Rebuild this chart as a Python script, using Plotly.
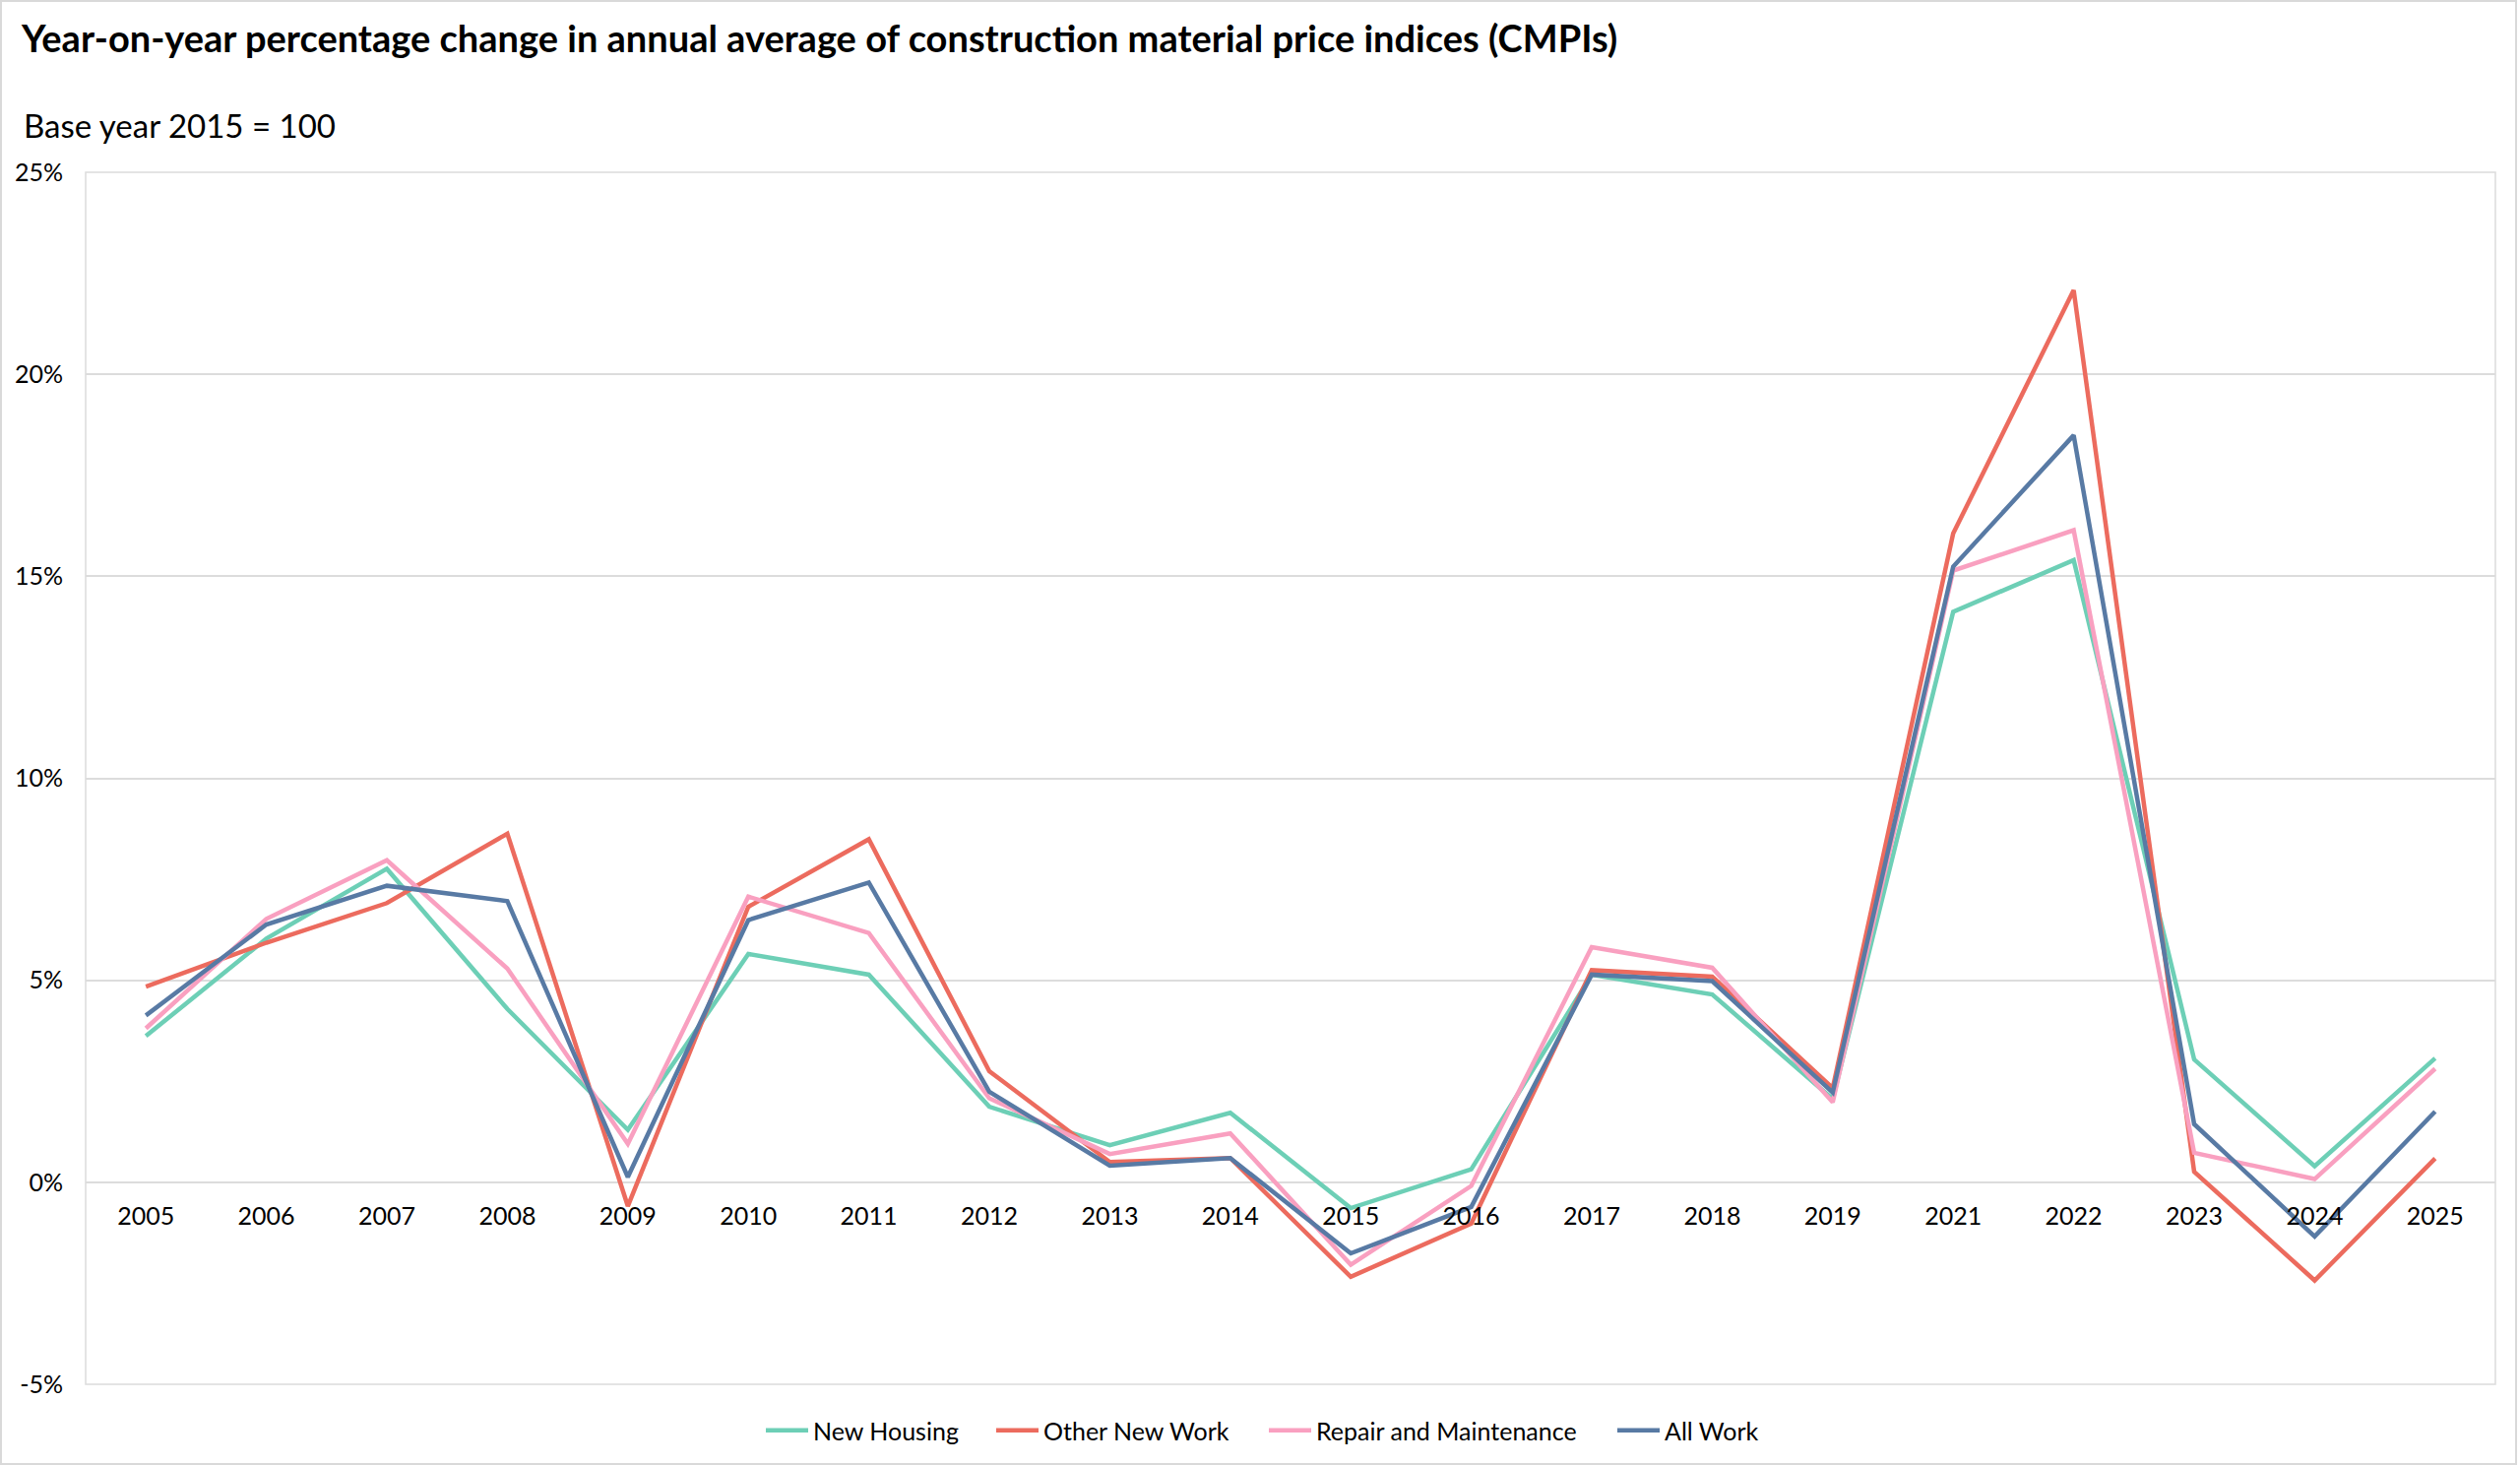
import plotly.graph_objects as go

years = ["2005", "2006", "2007", "2008", "2009", "2010", "2011", "2012", "2013", "2014",
         "2015", "2016", "2017", "2018", "2019", "2021", "2022", "2023", "2024", "2025"]

new_housing = [3.62, 6.03, 7.76, 4.29, 1.30, 5.65, 5.14, 1.87, 0.92, 1.72,
               -0.64, 0.32, 5.14, 4.65, 2.06, 14.12, 15.40, 3.04, 0.40, 3.07]
other_new_work = [4.84, 5.93, 6.91, 8.63, -0.59, 6.82, 8.49, 2.75, 0.50, 0.60,
                  -2.34, -1.02, 5.25, 5.09, 2.33, 16.06, 22.08, 0.26, -2.43, 0.59]
repair_maintenance = [3.81, 6.52, 7.97, 5.29, 0.95, 7.07, 6.17, 2.08, 0.70, 1.21,
                      -2.04, -0.09, 5.82, 5.31, 1.98, 15.14, 16.14, 0.73, 0.08, 2.81]
all_work = [4.13, 6.38, 7.34, 6.96, 0.13, 6.49, 7.42, 2.24, 0.41, 0.60,
            -1.76, -0.61, 5.14, 4.98, 2.22, 15.24, 18.49, 1.44, -1.34, 1.75]

series_names = ["New Housing", "Other New Work", "Repair and Maintenance", "All Work"]
series_values = [new_housing, other_new_work, repair_maintenance, all_work]
series_colors = ["#6dcfb6", "#ec6b5e", "#f9a0c0", "#587aa4"]

y_tick_vals = [-5, 0, 5, 10, 15, 20, 25]
y_tick_text = ["-5%", "0%", "5%", "10%", "15%", "20%", "25%"]

W, H = 2560, 1488
ML, MR, MT, MB = 87, 25, 175, 82
y_min, y_max = -5, 25
pw, ph = W - ML - MR, H - MT - MB

# pixel x of each legend entry's start (layout only)
legend_px = [778, 1012, 1289, 1643]
legend_ids = ["legend", "legend2", "legend3", "legend4"]

fig = go.Figure()
for name, vals, col, lid in zip(series_names, series_values, series_colors, legend_ids):
    fig.add_trace(go.Scatter(x=years, y=vals, mode="lines", name=name,
                             line=dict(color=col, width=4.5), legend=lid))

grid = "#dcdcdc"
legend_layout = {}
for lid, px in zip(legend_ids, legend_px):
    legend_layout[lid] = dict(orientation="h", x=(px - ML - 5) / pw, xanchor="left",
                              y=-(1453 - (H - MB)) / ph, yanchor="middle",
                              font=dict(family="Lato", size=25, color="#000000"),
                              itemwidth=43, bgcolor="rgba(0,0,0,0)")

fig.update_layout(
    width=W, height=H,
    margin=dict(l=ML, r=MR, t=MT, b=MB),
    paper_bgcolor="white", plot_bgcolor="white",
    font=dict(family="Lato", size=25, color="#000000"),
    title=dict(text="<b>Year-on-year percentage change in annual average of construction material price indices (CMPIs)</b>",
               x=22 / W, xanchor="left", xref="container",
               y=1 - 40 / H, yanchor="middle", yref="container",
               font=dict(family="Lato", size=38, color="#000000")),
    showlegend=True,
    xaxis=dict(type="category", anchor="free", range=[-0.5, len(years) - 0.5],
               position=(0 - y_min) / (y_max - y_min),
               showgrid=False, showline=False, zeroline=False, ticks="",
               ticklabelstandoff=17, tickfont=dict(size=25)),
    yaxis=dict(range=[y_min, y_max], tickvals=y_tick_vals, ticktext=y_tick_text,
               showgrid=True, gridcolor=grid, gridwidth=1.5, zeroline=False,
               showline=False, ticks="", tickfont=dict(size=25), ticklabelstandoff=22),
    **legend_layout,
)

fig.add_annotation(text="Base year 2015 = 100", xref="paper", yref="paper",
                   x=-(ML - 22) / pw, xanchor="left",
                   y=1 + (MT - 127) / ph, yanchor="middle",
                   showarrow=False, font=dict(family="Lato", size=33, color="#000000"))

# plot-area frame
fig.add_shape(type="rect", xref="paper", yref="paper", x0=0, x1=1, y0=0, y1=1,
              line=dict(color=grid, width=1.5), layer="below")
# outer chart border
fig.add_shape(type="rect", xref="paper", yref="paper",
              x0=-(ML - 1) / pw, x1=1 + (MR - 4) / pw,
              y0=-(MB - 1) / ph, y1=1 + (MT - 1) / ph,
              line=dict(color="#d9d9d9", width=2), layer="below")

fig.write_html("out.html", config={"displayModeBar": False},
               post_script="document.body.style.margin='0';document.body.style.overflow='hidden';")
